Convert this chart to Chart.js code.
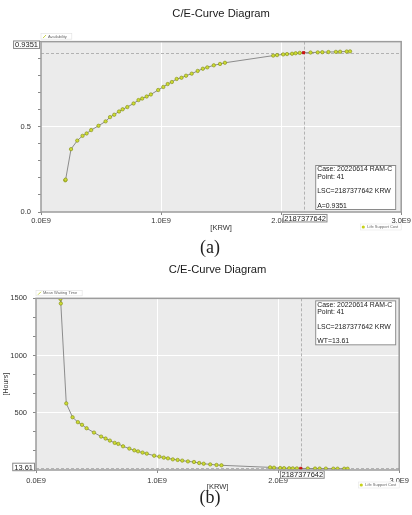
<!DOCTYPE html>
<html><head><meta charset="utf-8">
<script src="https://cdn.jsdelivr.net/npm/chart.js@4/dist/chart.umd.min.js"></script>
<style>
html,body{margin:0;padding:0;background:#fff;width:412px;height:515px;overflow:hidden}
canvas{position:absolute;left:0}
#ca{top:0}
#cb{top:250px}
.cap{position:absolute;left:4px;width:412px;text-align:center;font-family:"Liberation Serif","DejaVu Serif",serif;font-size:18px;line-height:20px;color:#222}
</style></head><body>
<canvas id="ca" width="412" height="240"></canvas>
<canvas id="cb" width="412" height="250"></canvas>
<div class="cap" style="top:237px">(a)</div>
<div class="cap" style="top:487px">(b)</div>
<script>
// Life support cost per point, in units of 1E9 KRW
const lscE9 = [0.202,0.205,0.250,0.302,0.346,0.380,0.418,0.479,0.538,0.575,0.610,0.650,0.680,0.719,0.771,0.812,0.843,0.880,0.915,0.976,
  1.019,1.055,1.090,1.130,1.170,1.208,1.255,1.305,1.348,1.385,1.439,1.491,1.532,1.934,1.966,2.017,2.049,2.091,2.121,2.155,
  2.187377642,2.245,2.305,2.343,2.394,2.456,2.491,2.546,2.574];
// Chart (a): availability
const availability = [0.186,0.190,0.369,0.419,0.447,0.461,0.481,0.506,0.532,0.557,0.571,0.590,0.603,0.616,0.637,0.657,0.666,0.678,0.690,0.716,
  0.734,0.751,0.763,0.781,0.788,0.800,0.812,0.828,0.841,0.849,0.861,0.869,0.876,0.918,0.921,0.925,0.927,0.929,0.932,0.934,
  0.9351,0.936,0.937,0.938,0.939,0.940,0.941,0.942,0.943];
// Chart (b): mean waiting time [hours]
const waitingHours = [1495,1455,582,461,418,395,365,327,292,275,257,237,228,207,187,172,163,152,143,125,
  117,108,102,93,88,82,75,70,61,55,49,44,41,23,20,17,16,15,14.5,14,
  13.61,13.2,12.8,12.5,12.2,11.9,11.6,11.3,11.0];
const selectedIndex = 40;
const selectedLSC = 2187377642;
const selectedA = 0.9351;
const selectedWT = 13.61;
const caseName = "20220614 RAM-C";
const xTickStepE9 = 1;
const xMaxE9 = 3;

const FONT = '"Liberation Sans", Arial, sans-serif';
const PT_FILL = '#cddb33', PT_EDGE = '#7f8c12', SEL_FILL = '#e01010';

function boxText(ctx, text, cx, cy, font, align, pad, h){
  ctx.font = font;
  const w = ctx.measureText(text).width + pad*2;
  let left = align === 'right' ? cx - w : align === 'center' ? cx - w/2 : cx;
  ctx.fillStyle = '#fff'; ctx.fillRect(left, cy - h/2, w, h);
  ctx.strokeStyle = '#8a8a8a'; ctx.lineWidth = 1; ctx.strokeRect(left+0.5, cy - h/2 + 0.5, w-1, h-1);
  ctx.fillStyle = '#222'; ctx.textAlign = 'left'; ctx.textBaseline = 'middle';
  ctx.fillText(text, left + pad, cy + 0.5);
}

function overlay(cfg){
  return {
    id: 'overlay' + cfg.key,
    beforeDraw(chart){
      const {ctx, chartArea:a} = chart;
      ctx.save(); ctx.fillStyle = '#ebebeb';
      ctx.fillRect(a.left, a.top, a.right - a.left, a.bottom - a.top); ctx.restore();
    },
    beforeDatasetsDraw(chart){
      const {ctx, chartArea:a, scales:{x, y}} = chart;
      const px = Math.round(x.getPixelForValue(selectedLSC)) + 0.5;
      const py = Math.round(y.getPixelForValue(cfg.selY)) + 0.5;
      ctx.save(); ctx.strokeStyle = '#b2b2b2'; ctx.lineWidth = 1; ctx.setLineDash([3,2]);
      ctx.beginPath(); ctx.moveTo(px, a.top); ctx.lineTo(px, a.bottom);
      ctx.moveTo(a.left, py); ctx.lineTo(a.right, py); ctx.stroke(); ctx.restore();
    },
    afterDraw(chart){
      const {ctx, chartArea:a, scales:{x, y}} = chart;
      ctx.save();
      ctx.strokeStyle = '#9c9c9c'; ctx.lineWidth = 1.5;
      ctx.strokeRect(a.left, a.top, a.right - a.left, a.bottom - a.top);
      const px = x.getPixelForValue(selectedLSC);
      const py = y.getPixelForValue(cfg.selY);
      boxText(ctx, cfg.yLabel, a.left - 1, py + cfg.yBoxDy, '7.5px ' + FONT, 'right', 2, 8.5);
      boxText(ctx, String(selectedLSC), px + 1.5, a.bottom + cfg.xBoxDy, '7.5px ' + FONT, 'center', 1.5, 8.5);
      const bw = 81, bh = 45;
      const bl = a.right - bw - cfg.infoRight, bt = cfg.infoTop(a);
      ctx.fillStyle = '#fff'; ctx.fillRect(bl, bt, bw, bh);
      ctx.strokeStyle = '#8a8a8a'; ctx.lineWidth = 1; ctx.strokeRect(bl+0.5, bt+0.5, bw-1, bh-1);
      ctx.fillStyle = '#222'; ctx.font = '6.9px ' + FONT; ctx.textAlign = 'left'; ctx.textBaseline = 'middle';
      const lines = ['Case: ' + caseName, 'Point: ' + (selectedIndex + 1), 'LSC=' + selectedLSC + ' KRW', cfg.infoLast];
      const offs = [4.5, 11.8, 26.5, 41];
      lines.forEach((t, i) => ctx.fillText(t, bl + 2, bt + offs[i]));
      ctx.font = '4px ' + FONT;
      const lw = ctx.measureText(cfg.seriesName).width + 12;
      ctx.fillStyle = '#fff'; ctx.fillRect(a.left, a.top - 8, lw, 5.5);
      ctx.strokeStyle = '#e0e0e0'; ctx.lineWidth = 0.6; ctx.strokeRect(a.left, a.top - 8, lw, 5.5);
      ctx.strokeStyle = '#b9c61e'; ctx.lineWidth = 0.8; ctx.beginPath();
      ctx.moveTo(a.left + 2, a.top - 3.6); ctx.lineTo(a.left + 5, a.top - 6.6); ctx.stroke();
      ctx.fillStyle = '#666'; ctx.fillText(cfg.seriesName, a.left + 7, a.top - 5.2);
      const lt = 'Life Support Cost';
      const w2 = ctx.measureText(lt).width + 10;
      const ly = a.bottom + cfg.legY;
      ctx.fillStyle = '#fff'; ctx.fillRect(a.right - w2, ly - 3, w2, 6);
      ctx.strokeStyle = '#e6e6e6'; ctx.lineWidth = 0.6; ctx.strokeRect(a.right - w2, ly - 3, w2, 6);
      ctx.fillStyle = '#c7d21a'; ctx.beginPath(); ctx.arc(a.right - w2 + 3, ly, 1.6, 0, Math.PI*2); ctx.fill();
      ctx.fillStyle = '#666'; ctx.fillText(lt, a.right - w2 + 7, ly);
      ctx.restore();
    }
  };
}

function makeChart(id, cfg){
  const data = lscE9.map((v, i) => ({x: v * 1e9, y: cfg.values[i]}));
  return new Chart(document.getElementById(id), {
    type: 'line',
    data: { datasets: [{
      label: cfg.seriesName, data,
      borderColor: '#8c8c8c', borderWidth: 1, tension: 0,
      pointRadius: 1.7, pointHoverRadius: 1.7, pointBorderWidth: 0.6,
      pointBackgroundColor: c => c.dataIndex === selectedIndex ? SEL_FILL : PT_FILL,
      pointBorderColor: c => c.dataIndex === selectedIndex ? '#b00000' : PT_EDGE,
      pointStyle: c => c.dataIndex === selectedIndex ? 'rect' : 'circle'
    }]},
    options: {
      responsive: false, animation: false, devicePixelRatio: 1,
      layout: { padding: {left: 0, right: 10, top: 0, bottom: 0} },
      plugins: {
        legend: {display: false}, tooltip: {enabled: false},
        title: { display: true, text: 'C/E-Curve Diagram', fullSize: false, color: '#1a1a1a',
          font: {family: FONT, size: 11.2, weight: 'normal', lineHeight: 1.2},
          padding: {top: cfg.titleTop, bottom: cfg.titleBottom} }
      },
      scales: {
        x: { type: 'linear', min: 0, max: xMaxE9 * 1e9,
          afterFit: s => { s.height = cfg.xH; },
          ticks: { stepSize: xTickStepE9 * 1e9, padding: cfg.xPad, color: '#333', maxRotation: 0,
            font: {family: FONT, size: 7.5}, callback: v => (v / 1e9).toFixed(1) + 'E9' },
          grid: { color: c => (c.tick && c.tick.value > 0 && c.tick.value < xMaxE9 * 1e9) ? '#ffffff' : 'rgba(0,0,0,0)',
            tickColor: '#888', tickLength: 3, lineWidth: 1 },
          border: {display: false},
          title: { display: true, text: '[KRW]', color: '#333', font: {family: FONT, size: 7.5},
            padding: {top: 0, bottom: cfg.xTitlePad} } },
        y: { min: 0, max: cfg.yMax,
          afterFit: s => { s.width = cfg.yW; },
          ticks: { stepSize: cfg.yStep, padding: cfg.yPad, color: '#333', autoSkip: false,
            font: {family: FONT, size: 7.5}, callback: cfg.yLabelFn },
          grid: { color: c => (c.tick && cfg.isMajor(c.tick.value) && c.tick.value > 0 && c.tick.value < cfg.yMax) ? '#ffffff' : 'rgba(0,0,0,0)',
            tickColor: '#888', tickLength: 3, lineWidth: 1 },
          border: {display: false},
          title: { display: cfg.yTitle !== '', text: cfg.yTitle, color: '#333', font: {family: FONT, size: 7},
            padding: {top: 1.5, bottom: 0} } }
      }
    },
    plugins: [overlay(cfg)]
  });
}

const isHalf = v => Math.abs(v * 2 - Math.round(v * 2)) < 1e-6;
makeChart('ca', {
  key: 'a', values: availability, seriesName: 'Availability', selY: selectedA,
  yLabel: String(selectedA), yBoxDy: -8, xBoxDy: 6.2, infoRight: 5, infoTop: a => a.bottom - 47,
  infoLast: 'A=' + selectedA, legY: 15,
  titleTop: 7.1, titleBottom: 21.1, xH: 28, xPad: 1, xTitlePad: 7.5,
  yMax: 1, yStep: 0.1, yW: 41, yPad: 7, yTitle: '',
  isMajor: isHalf,
  yLabelFn: v => (isHalf(v) && v < 0.99) ? v.toFixed(1) : ''
});
const is500 = v => Math.abs(v / 500 - Math.round(v / 500)) < 1e-6;
makeChart('cb', {
  key: 'b', values: waitingHours, seriesName: 'Mean Waiting Time', selY: selectedWT,
  yLabel: String(selectedWT), yBoxDy: -1.5, xBoxDy: 4.5, infoRight: 3, infoTop: a => a.top + 2,
  infoLast: 'WT=' + selectedWT, legY: 15,
  titleTop: 13.1, titleBottom: 21.8, xH: 30, xPad: 3, xTitlePad: 8.8,
  yMax: 1500, yStep: 500 / 3, yW: 36, yPad: 6, yTitle: '[Hours]',
  isMajor: is500,
  yLabelFn: v => (is500(v) && v > 1) ? String(Math.round(v)) : ''
});
</script>
</body></html>
